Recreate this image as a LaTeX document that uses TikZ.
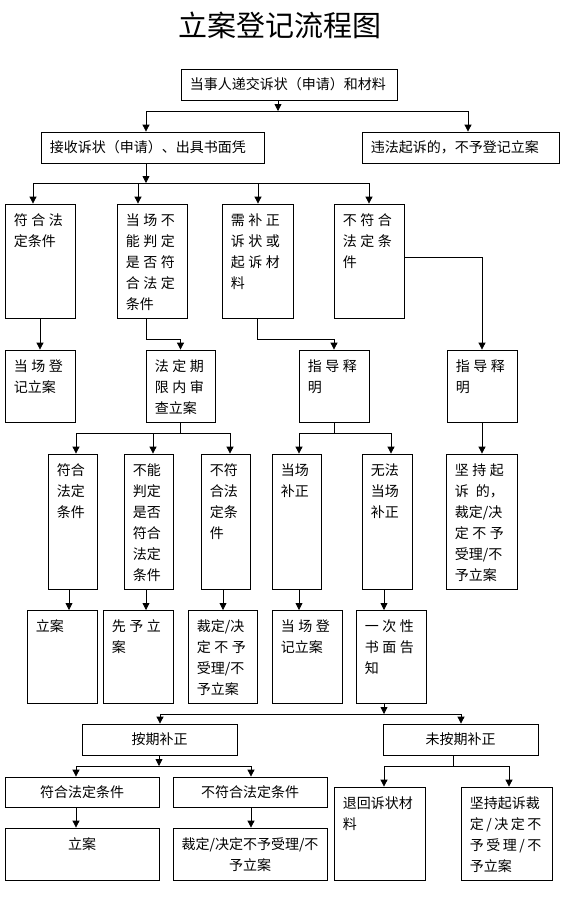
\documentclass[tikz,border=0pt]{standalone}
\usepackage{fontspec}
\setmainfont{Noto Sans CJK SC}
\usetikzlibrary{arrows.meta,positioning,fit}
\tikzset{
  bx/.style={draw=black, line width=0.8pt, inner sep=0pt},
  tx/.style={inner sep=0pt, align=left, anchor=north west, font=\fontsize{14}{21}\selectfont},
  tc/.style={inner sep=0pt, align=center, font=\fontsize{14}{21}\selectfont},
  ln/.style={draw=black, line width=0.8pt},
  arr/.style={draw=black, line width=0.8pt, -{Triangle[length=7pt,width=7pt]}},
}
\newcommand\mkbox[5]{\node[bx, fit={(#2,#3) (#4,#5)}] (#1) {};}
\newcommand\mktx[2]{\node[tx] (t#1) at ([shift={(9,10)}]#1.north west) {#2};}
\newcommand\jt[3]{#1\hspace{3.5pt}#2\hspace{3.5pt}#3}
\newcommand\hs{\hspace{2.5pt}}
\begin{document}
\begin{tikzpicture}[x=1pt,y=-1pt]
\useasboundingbox (0,0) rectangle (565,902);
\node[font=\fontsize{29}{29}\selectfont, inner sep=0pt] (title) at (280,25) {立案登记流程图};

% boxes
\mkbox{top}{181}{69}{397}{100}
\mkbox{R1}{41}{132}{264}{163}
\mkbox{R2}{362}{132}{559}{163}
\mkbox{A1}{5}{204}{75}{318}
\mkbox{A2}{117}{204}{187}{318}
\mkbox{A3}{222}{204}{293}{318}
\mkbox{A4}{334}{204}{404}{318}
\mkbox{B1}{5}{350}{75}{422}
\mkbox{B2}{146}{350}{215}{422}
\mkbox{B3}{299}{350}{369}{422}
\mkbox{B4}{447}{350}{517}{422}
\mkbox{C1}{48}{454}{97}{589}
\mkbox{C2}{124}{454}{173}{589}
\mkbox{C3}{201}{454}{250}{589}
\mkbox{C4}{272}{454}{321}{589}
\mkbox{C5}{362}{454}{412}{589}
\mkbox{C6}{446}{454}{517}{589}
\mkbox{D1}{27}{610}{97}{703}
\mkbox{D2}{103}{610}{173}{703}
\mkbox{D3}{188}{610}{257}{703}
\mkbox{D4}{272}{610}{342}{703}
\mkbox{D5}{356}{610}{426}{703}
\mkbox{E1}{82}{724}{237}{755}
\mkbox{E2}{383}{724}{538}{755}
\mkbox{F1}{5}{777}{159}{807}
\mkbox{F2}{173}{777}{327}{807}
\mkbox{G1}{5}{828}{159}{880}
\mkbox{G2}{173}{828}{327}{880}
\mkbox{G3}{334}{787}{425}{880}
\mkbox{G4}{461}{787}{552}{880}

% texts
\node[tc, anchor=west] (ttop) at ([xshift=9pt]top.west) {当事人递交诉状（申请）和材料};
\node[tc, anchor=west] (tR1) at ([xshift=9pt]R1.west) {接收诉状（申请）、出具书面凭};
\node[tc, anchor=west] (tR2) at ([xshift=9pt]R2.west) {违法起诉的，不予登记立案};
\mktx{A1}{\jt{符}{合}{法}\\定条件}
\mktx{A2}{\jt{当}{场}{不}\\\jt{能}{判}{定}\\\jt{是}{否}{符}\\\jt{合}{法}{定}\\条件}
\mktx{A3}{\jt{需}{补}{正}\\\jt{诉}{状}{或}\\\jt{起}{诉}{材}\\料}
\mktx{A4}{\jt{不}{符}{合}\\\jt{法}{定}{条}\\件}
\mktx{B1}{\jt{当}{场}{登}\\记立案}
\mktx{B2}{\jt{法}{定}{期}\\\jt{限}{内}{审}\\查立案}
\mktx{B3}{\jt{指}{导}{释}\\明}
\mktx{B4}{\jt{指}{导}{释}\\明}
\mktx{C1}{符合\\法定\\条件}
\mktx{C2}{不能\\判定\\是否\\符合\\法定\\条件}
\mktx{C3}{不符\\合法\\定条\\件}
\mktx{C4}{当场\\补正}
\mktx{C5}{无法\\当场\\补正}
\mktx{C6}{\jt{坚}{持}{起}\\诉\hspace{7pt}的，\\裁定/决\\\jt{定}{不}{予}\\受理/不\\予立案}
\mktx{D1}{立案}
\mktx{D2}{\jt{先}{予}{立}\\案}
\mktx{D3}{裁定/决\\\jt{定}{不}{予}\\受理/不\\予立案}
\mktx{D4}{\jt{当}{场}{登}\\记立案}
\mktx{D5}{\jt{一}{次}{性}\\\jt{书}{面}{告}\\知}
\node[tc] (tE1) at (E1.center) {按期补正};
\node[tc] (tE2) at (E2.center) {未按期补正};
\node[tc] (tF1) at (F1.center) {符合法定条件};
\node[tc] (tF2) at (F2.center) {不符合法定条件};
\node[tc, anchor=north] (tG1) at ([yshift=-10pt]G1.north) {立案};
\node[tc, anchor=north] (tG2) at ([yshift=-10pt]G2.north) {裁定/决定不予受理/不\\予立案};
\mktx{G3}{退回诉状材\\料}
\mktx{G4}{坚持起诉裁\\定\hs{}/\hs{}决\hs{}定\hs{}不\\予\hs{}受\hs{}理\hs{}/\hs{}不\\予立案}

% connectors: top
\coordinate (b0) at (278,111);
\coordinate (b0l) at (146,111);
\coordinate (b0r) at (468,111);
\draw[arr] (top.south -| b0) -- (b0);
\draw[ln] (b0l) -- (b0r);
\draw[arr] (b0l) -- (b0l |- R1.north);
\draw[arr] (b0r) -- (b0r |- R2.north);

% R1 to A row
\coordinate (b1) at (146,183);
\coordinate (b1a) at (33,183);
\coordinate (b1b) at (138,183);
\coordinate (b1c) at (258,183);
\coordinate (b1d) at (369,183);
\draw[arr] (R1.south -| b1) -- (b1);
\draw[ln] (b1a) -- (b1d);
\draw[arr] (b1a) -- (b1a |- A1.north);
\draw[arr] (b1b) -- (b1b |- A2.north);
\draw[arr] (b1c) -- (b1c |- A3.north);
\draw[arr] (b1d) -- (b1d |- A4.north);

% A row to B row
\draw[arr] (A1.south) -- (B1.north);
\coordinate (k2) at (146,339);
\draw[arr] (A2.south -| k2) -- (k2) -| (B2.north);
\draw[arr] (A3.south) -- ++(0,21) -| (B3.north);
\draw[arr] ([yshift=4pt]A4.east) -| (B4.north);

% B row to C row
\coordinate (c1) at (76,433);
\coordinate (c2) at (153,433);
\coordinate (c3) at (230,433);
\draw[ln] (B2.south) -- (B2.south |- c1);
\draw[ln] (c1) -- (c3);
\draw[arr] (c1) -- (c1 |- C1.north);
\draw[arr] (c2) -- (c2 |- C2.north);
\draw[arr] (c3) -- (c3 |- C3.north);
\coordinate (c4) at (299,433);
\coordinate (c5) at (391,433);
\draw[ln] (B3.south) -- (B3.south |- c4);
\draw[ln] (c4) -- (c5);
\draw[arr] (c4) -- (c4 |- C4.north);
\draw[arr] (c5) -- (c5 |- C5.north);
\draw[arr] (B4.south) -- (B4.south |- C6.north);

% C row to D row
\coordinate (d1) at (69,610);
\coordinate (d2) at (146,610);
\coordinate (d3) at (223,610);
\coordinate (d4) at (299,610);
\coordinate (d5) at (384,610);
\draw[arr] (d1 |- C1.south) -- (d1);
\draw[arr] (d2 |- C2.south) -- (d2);
\draw[arr] (d3 |- C3.south) -- (d3);
\draw[arr] (d4 |- C4.south) -- (d4);
\draw[arr] (d5 |- C5.south) -- (d5);

% D5 to E row
\coordinate (e0) at (384,714);
\coordinate (e1) at (160,714);
\coordinate (e2) at (461,714);
\draw[arr] (D5.south -| e0) -- (e0);
\draw[ln] (e1) -- (e2);
\draw[arr] (e1) -- (e1 |- E1.north);
\draw[arr] (e2) -- (e2 |- E2.north);

% E1 to F row
\coordinate (f0) at (159,766);
\coordinate (f1) at (76,766);
\coordinate (f2) at (251,766);
\draw[arr] (E1.south -| f0) -- (f0);
\draw[ln] (f1) -- (f2);
\draw[arr] (f1) -- (f1 |- F1.north);
\draw[arr] (f2) -- (f2 |- F2.north);
\draw[arr] (F1.south -| f1) -- (f1 |- G1.north);
\draw[arr] (F2.south -| f2) -- (f2 |- G2.north);

% E2 to G3, G4
\coordinate (h0) at (453,766);
\coordinate (h1) at (384,766);
\coordinate (h2) at (509,766);
\draw[ln] (E2.south -| h0) -- (h0);
\draw[ln] (h1) -- (h2);
\draw[arr] (h1) -- (h1 |- G3.north);
\draw[arr] (h2) -- (h2 |- G4.north);
\end{tikzpicture}
\end{document}
